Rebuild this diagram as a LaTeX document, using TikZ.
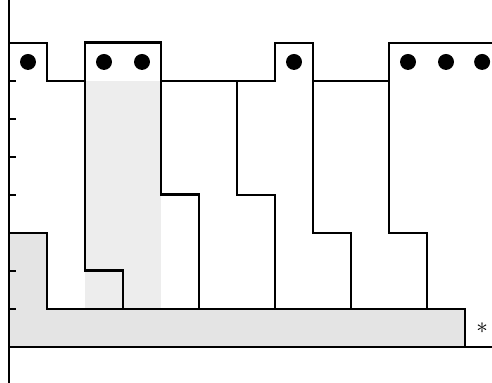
\documentclass[tikz,border=0pt]{standalone}
\usepackage{amsmath,amssymb}
\usepackage{tikz}
\definecolor{grisCaja}{HTML}{E4E4E4}
\definecolor{grisClaro}{HTML}{EDEDED}
\tikzset{
  linea/.style={line width=1.4pt,line cap=rect},
  lineaGruesa/.style={line width=2.2pt,line cap=rect},
}
\newcommand{\puntoProc}[1]{%
  \fill[black] #1 circle (0.21);
}
\newcommand{\marcaEje}[1]{%
  \draw[linea] (0,#1) -- (0.16,#1);
}

\begin{document}
\begin{tikzpicture}
      \useasboundingbox (-0.237,-0.947) rectangle (12.71,9.13);
      \fill[grisClaro] (2,1) rectangle (4,7);                      % proceso resaltado
      \fill[grisCaja] (0,0) -- (12,0) -- (12,1) -- (1,1) -- (1,3) -- (0,3) -- cycle; % caja base
      \draw[linea] (0,3) -- (1,3) -- (1,1) -- (12,1) -- (12,0);
      \draw[linea] (0,-0.947) -- (0,9.13);                          % eje vertical
      \draw[linea] (0,0) -- (12.71,0);                              % eje horizontal
      \marcaEje{1} \marcaEje{2} \marcaEje{3} \marcaEje{4}
      \marcaEje{5} \marcaEje{6} \marcaEje{7}
      \draw[linea] (0,8) -- (1,8) -- (1,7) -- (2,7);
      \draw[lineaGruesa] (3,1) -- (3,2) -- (2,2) -- (2,8) -- (4,8) -- (4,4) -- (5,4) -- (5,1);
      \draw[linea] (4,7) -- (7,7) -- (7,8) -- (8,8) -- (8,7) -- (10,7) -- (10,8) -- (12.71,8);
      \draw[linea] (6,7) -- (6,4) -- (7,4) -- (7,1);
      \draw[linea] (8,7) -- (8,3) -- (9,3) -- (9,1);
      \draw[linea] (10,7) -- (10,3) -- (11,3) -- (11,1);
      \puntoProc{(0.5,7.5)}
      \puntoProc{(2.5,7.5)}  \puntoProc{(3.5,7.5)}
      \puntoProc{(7.5,7.5)}
      \puntoProc{(10.5,7.5)} \puntoProc{(11.5,7.5)} \puntoProc{(12.45,7.5)}
      \node[font=\LARGE] (asterisco) at (12.45,0.5) {$\ast$};
    \end{tikzpicture}
\end{document}
